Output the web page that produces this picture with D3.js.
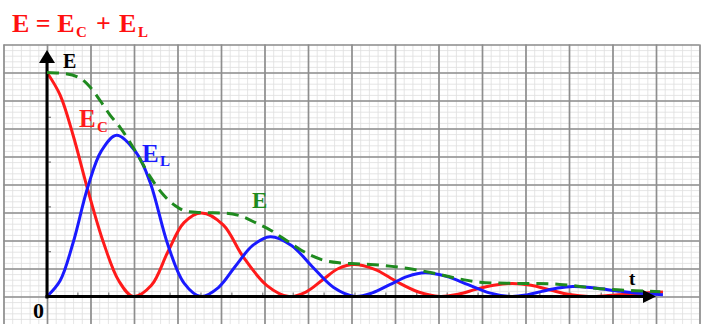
<!DOCTYPE html>
<html>
<head>
<meta charset="utf-8">
<script src="https://cdn.jsdelivr.net/npm/d3@7"></script>
<style>
  body { margin: 0; background: #fff; }
  svg { display: block; }
</style>
</head>
<body>
<svg id="chart" width="703" height="324"></svg>
<script>
// E_C (capacitor energy): t in grid cells, E as a fraction of E0
const capT = [0, 0.3, 0.6, 0.94, 1.3, 1.65, 1.98, 2.4, 2.78, 3.15, 3.55, 4.05, 4.5, 5.05, 5.56, 5.95, 6.34, 6.7, 7.06, 7.55, 8.04, 8.54, 9.03, 9.45, 9.86, 10.27, 10.69, 11.13, 11.57, 12.01, 12.45, 12.9, 13.3, 13.75, 14.16];
const capE = [1, 0.9, 0.72, 0.475, 0.24, 0.07, 0, 0.05, 0.2, 0.33, 0.373, 0.32, 0.18, 0.05, 0, 0.02, 0.075, 0.125, 0.143, 0.12, 0.066, 0.02, 0, 0.01, 0.032, 0.05, 0.058, 0.05, 0.029, 0.009, 0, 0.004, 0.01, 0.016, 0.02];

// E_L (coil energy)
const indT = [0, 0.3, 0.6, 0.94, 1.25, 1.6, 2.06, 2.37, 2.78, 3.15, 3.54, 3.94, 4.33, 4.73, 5.13, 5.62, 6.1, 6.59, 7.08, 7.48, 7.88, 8.29, 8.69, 9.18, 9.68, 10.17, 10.67, 11.03, 11.38, 11.74, 12.09, 12.6, 13.1, 13.6, 14.16];
const indE = [0, 0.07, 0.24, 0.49, 0.65, 0.72, 0.64, 0.51, 0.23, 0.06, 0, 0.04, 0.135, 0.228, 0.267, 0.228, 0.133, 0.04, 0, 0.016, 0.053, 0.09, 0.106, 0.09, 0.053, 0.016, 0, 0.007, 0.023, 0.038, 0.045, 0.038, 0.025, 0.014, 0.008];

// total energy E (dashed)
const totT = [0, 0.4, 0.76, 0.99, 1.22, 1.45, 1.68, 2.06, 2.37, 2.67, 2.95, 3.21, 3.52, 4.1, 4.44, 4.82, 5.13, 5.59, 6.0, 6.34, 6.74, 7.1, 7.43, 8.27, 8.87, 9.42, 9.95, 10.57, 11.26, 11.79, 12.29, 12.9, 13.52, 14.1];
const totE = [1, 0.995, 0.975, 0.935, 0.875, 0.81, 0.755, 0.64, 0.535, 0.455, 0.405, 0.38, 0.375, 0.372, 0.36, 0.327, 0.297, 0.239, 0.19, 0.163, 0.15, 0.146, 0.143, 0.126, 0.105, 0.081, 0.064, 0.059, 0.058, 0.054, 0.044, 0.032, 0.026, 0.021];

// small marks on the axes
const tMarks = [0.71, 1.42, 2.12, 2.83, 3.54, 4.25, 4.96, 5.66, 6.37, 7.08, 7.79, 8.5, 9.2, 9.91, 10.62, 11.33, 12.04, 12.74, 13.45];
const eMarks = [0.2, 0.4, 0.6, 0.8];

const svg = d3.select('#chart');

const x = d3.scaleLinear().domain([-1, 15]).range([3.5, 699.5]);
const y = d3.scaleLinear().domain([0, 1]).range([296.5, 72.5]);

// graph paper
const grid = svg.append('g');
const gridTop = y(9 / 8), gridBottom = 330;

grid.append('g')
  .attr('transform', `translate(0,${gridBottom})`)
  .call(d3.axisBottom(x).tickValues(d3.range(-1, 15.001, 0.2)).tickSize(-(gridBottom - gridTop)).tickFormat(''))
  .call(g => g.select('.domain').remove())
  .call(g => g.selectAll('line').attr('stroke', '#dedede').attr('stroke-width', 0.8));

grid.append('g')
  .attr('transform', `translate(${x(-1)},0)`)
  .call(d3.axisLeft(y).tickValues(d3.range(-1 / 8, 9 / 8 + 0.001, 1 / 40)).tickSize(-(x(15) - x(-1))).tickFormat(''))
  .call(g => g.select('.domain').remove())
  .call(g => g.selectAll('line').attr('stroke', '#dedede').attr('stroke-width', 0.8));

grid.append('g')
  .attr('transform', `translate(0,${gridBottom})`)
  .call(d3.axisBottom(x).tickValues(d3.range(-1, 16, 1)).tickSize(-(gridBottom - gridTop)).tickFormat(''))
  .call(g => g.select('.domain').remove())
  .call(g => g.selectAll('line').attr('stroke', '#8e8e8e').attr('stroke-width', 1.7));

grid.append('g')
  .attr('transform', `translate(${x(-1)},0)`)
  .call(d3.axisLeft(y).tickValues(d3.range(-1, 10, 1).map(k => k / 8)).tickSize(-(x(15) - x(-1))).tickFormat(''))
  .call(g => g.select('.domain').remove())
  .call(g => g.selectAll('line').attr('stroke', '#8e8e8e').attr('stroke-width', 1.7));

// axis marks
svg.append('g').selectAll('line').data(tMarks).join('line')
  .attr('x1', d => x(d)).attr('x2', d => x(d))
  .attr('y1', y(0)).attr('y2', y(0) - 4)
  .attr('stroke', '#777').attr('stroke-width', 1.2);

svg.append('g').selectAll('line').data(eMarks).join('line')
  .attr('x1', x(0)).attr('x2', x(0) + 4)
  .attr('y1', d => y(d)).attr('y2', d => y(d))
  .attr('stroke', '#777').attr('stroke-width', 1.2);

// curves
const wave = d3.line()
  .x(d => x(d[0]))
  .y(d => y(d[1]))
  .curve(d3.curveCatmullRom.alpha(0.5));

const envelope = d3.line()
  .x(d => x(d[0]))
  .y(d => y(d[1]))
  .curve(d3.curveMonotoneX);

svg.append('path')
  .datum(d3.zip(capT, capE))
  .attr('fill', 'none')
  .attr('stroke', '#ff1a1a')
  .attr('stroke-width', 3)
  .attr('d', wave);

svg.append('path')
  .datum(d3.zip(indT, indE))
  .attr('fill', 'none')
  .attr('stroke', '#1a1aff')
  .attr('stroke-width', 3)
  .attr('d', wave);

// axes with arrows
svg.append('line')
  .attr('x1', x(0)).attr('x2', x(0))
  .attr('y1', y(0) + 2).attr('y2', 60)
  .attr('stroke', '#000').attr('stroke-width', 3);
svg.append('path')
  .attr('d', `M${x(0)},50 L${x(0) - 8},63 L${x(0) + 8},63 Z`)
  .attr('fill', '#000');

svg.append('line')
  .attr('x1', x(0) - 1.5).attr('x2', 646)
  .attr('y1', y(0)).attr('y2', y(0))
  .attr('stroke', '#000').attr('stroke-width', 3);
svg.append('path')
  .attr('d', `M656,${y(0)} L643,${y(0) - 6.5} L643,${y(0) + 6.5} Z`)
  .attr('fill', '#000');

svg.append('path')
  .datum(d3.zip(totT, totE))
  .attr('fill', 'none')
  .attr('stroke', '#1f8a1f')
  .attr('stroke-width', 3)
  .attr('stroke-dasharray', '12,7')
  .attr('d', envelope);

// texts
const serif = '"Liberation Serif", "DejaVu Serif", serif';

function label(px, py, size, color, txt) {
  svg.append('text')
    .attr('x', px).attr('y', py)
    .attr('font-family', serif)
    .attr('font-weight', 'bold')
    .attr('font-size', size)
    .attr('fill', color)
    .text(txt);
}

// title E = E_C + E_L
label(12, 32, 26, '#ff1010', 'E = E');
label(76, 37, 15, '#ff1010', 'C');
label(96, 32, 26, '#ff1010', '+');
label(119, 32, 26, '#ff1010', 'E');
label(138, 37, 15, '#ff1010', 'L');

label(63, 68, 20, '#000', 'E');
label(629, 285, 19, '#000', 't');
label(33, 318, 22, '#000', '0');

label(79, 127, 25, '#ff1a1a', 'E');
label(97, 132, 15, '#ff1a1a', 'C');

label(142, 162, 25, '#1a1aff', 'E');
label(160, 166, 15, '#1a1aff', 'L');

label(252, 208, 23, '#1f8a1f', 'E');
</script>
</body>
</html>
